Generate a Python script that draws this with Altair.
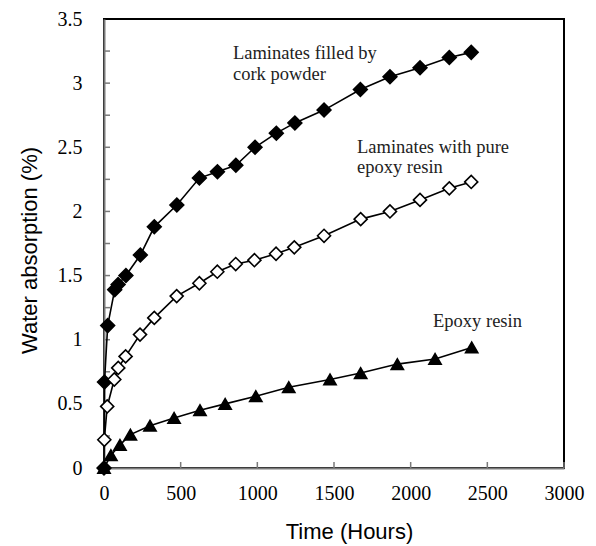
import altair as alt
import pandas as pd

# Laminates filled by cork powder (filled diamonds)
cork_t = [0, 3, 24, 70, 92, 143, 237, 328, 475, 622, 740, 860, 985, 1124, 1245, 1435, 1672, 1865, 2061, 2252, 2395]
cork_v = [0.0, 0.67, 1.11, 1.39, 1.43, 1.50, 1.66, 1.88, 2.05, 2.26, 2.31, 2.36, 2.50, 2.61, 2.69, 2.79, 2.95, 3.05, 3.12, 3.20, 3.24]

# Laminates with pure epoxy resin (open diamonds)
pure_t = [2, 21, 67, 93, 141, 235, 328, 474, 622, 739, 859, 981, 1122, 1241, 1435, 1674, 1865, 2061, 2252, 2395]
pure_v = [0.22, 0.48, 0.69, 0.78, 0.87, 1.04, 1.17, 1.34, 1.44, 1.53, 1.59, 1.62, 1.67, 1.72, 1.81, 1.94, 2.0, 2.09, 2.18, 2.23]

# Epoxy resin (filled triangles)
epoxy_t = [0, 45, 104, 172, 300, 457, 626, 790, 990, 1205, 1474, 1674, 1913, 2159, 2398]
epoxy_v = [0.0, 0.10, 0.18, 0.26, 0.33, 0.39, 0.45, 0.50, 0.56, 0.63, 0.69, 0.74, 0.81, 0.85, 0.94]

series_names = ["Laminates filled by cork powder", "Laminates with pure epoxy resin", "Epoxy resin"]

# Annotations
ann_text = ["Laminates filled by", "cork powder", "Laminates with pure", "epoxy resin", "Epoxy resin"]
ann_t = [841, 841, 1650, 1650, 2146]
ann_v = [3.235, 3.07, 2.50, 2.345, 1.146]

x_ticks = [500, 1000, 1500, 2000, 2500, 3000]
y_ticks = [0.25, 0.5, 0.75, 1.0, 1.25, 1.5, 1.75, 2.0, 2.25, 2.5, 2.75, 3.0, 3.25]
x_labels = [0, 500, 1000, 1500, 2000, 2500, 3000]
y_labels = [0, 0.5, 1, 1.5, 2, 2.5, 3, 3.5]

rows = []
for name, ts, vs in zip(series_names, [cork_t, pure_t, epoxy_t], [cork_v, pure_v, epoxy_v]):
    for t, v in zip(ts, vs):
        rows.append({"series": name, "t": t, "v": v})
df = pd.DataFrame(rows)
ann = pd.DataFrame({"text": ann_text, "t": ann_t, "v": ann_v})
xt = pd.DataFrame({"t": x_ticks})
yt = pd.DataFrame({"v": y_ticks})

W, H = 460, 449
xscale = alt.Scale(domain=[0, 3000], nice=False, zero=False)
yscale = alt.Scale(domain=[0, 3.5], nice=False, zero=False)

xaxis = alt.Axis(values=x_labels, format="d", ticks=False, grid=False,
                 labelPadding=15, labelFont="Liberation Serif",
                 title="Time (Hours)", titleX=245, titleY=63,
                 titleBaseline="middle", labelFlush=False)
yaxis = alt.Axis(values=y_labels, format="~g", ticks=False, grid=False,
                 labelPadding=22, labelFont="Liberation Serif",
                 title="Water absorption (%)", titleX=-75, titleY=231,
                 titleBaseline="middle", titleAngle=270, labelFlush=False)

base = alt.Chart(df)
X = alt.X("t:Q", scale=xscale, axis=xaxis)
Y = alt.Y("v:Q", scale=yscale, axis=yaxis)

lines = base.mark_line(color="black", strokeWidth=1.6).encode(x=X, y=Y, detail="series:N")
points = base.mark_point(opacity=1, stroke="black", strokeWidth=1.6).encode(
    x="t:Q", y="v:Q",
    shape=alt.Shape("series:N", scale=alt.Scale(domain=series_names, range=["diamond", "diamond", "triangle-up"]), legend=None),
    fill=alt.Fill("series:N", scale=alt.Scale(domain=series_names, range=["black", "white", "black"]), legend=None),
    size=alt.Size("series:N", scale=alt.Scale(domain=series_names, range=[190, 150, 170]), legend=None),
)

xtick_marks = alt.Chart(xt).mark_rule(color="#7a7a7a", strokeWidth=1.5).encode(
    x="t:Q", y=alt.value(H), y2=alt.value(H - 6))
ytick_marks = alt.Chart(yt).mark_rule(color="#7a7a7a", strokeWidth=1.5).encode(
    y="v:Q", x=alt.value(0), x2=alt.value(6))

texts = alt.Chart(ann).mark_text(align="left", baseline="middle", font="Liberation Serif",
                                 fontSize=18.5, color="#222222").encode(x="t:Q", y="v:Q", text="text:N")

chart = alt.layer(xtick_marks, ytick_marks, lines, points, texts).properties(
    width=W, height=H,
    autosize=alt.AutoSizeParams(type="none"),
    padding={"left": 104, "top": 19, "right": 32, "bottom": 78},
    background="white",
).configure_view(stroke="black", strokeWidth=2).configure_axis(
    labelFont="Liberation Serif", labelFontSize=20, labelColor="black",
    domainColor="#7a7a7a", domainWidth=2,
    titleFont="Liberation Sans", titleFontSize=22, titleFontWeight="normal", titleColor="black",
)

chart.save("out.html", embed_options={"renderer": "svg", "actions": False})
